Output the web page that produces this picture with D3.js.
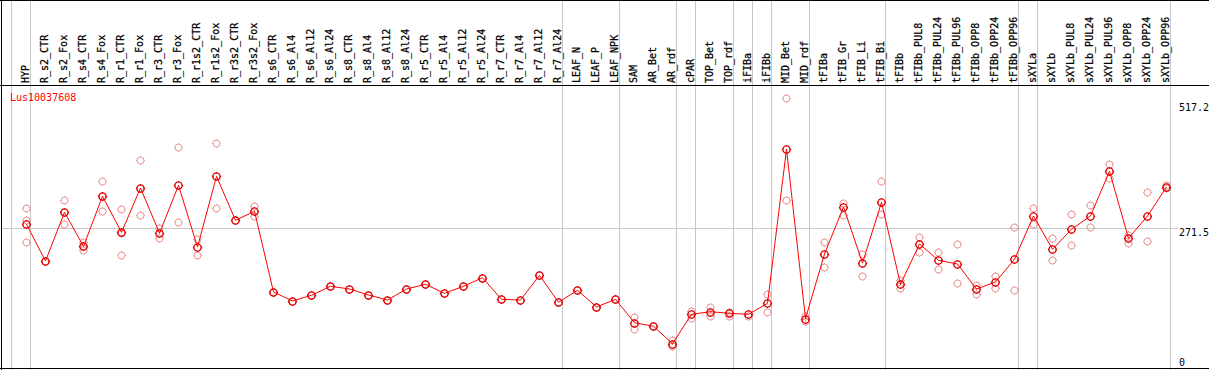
<!DOCTYPE html>
<html>
<head>
<meta charset="utf-8">
<script src="https://cdn.jsdelivr.net/npm/d3@7"></script>
<style>
  body { margin: 0; background: #fff; }
  svg { display: block; font-family: "DejaVu Sans Mono", monospace; font-size: 10px; }
</style>
</head>
<body>
<svg id="chart" width="1209" height="370"></svg>
<script>
// Sample names (columns)
const samples = ["HYP", "R_s2_CTR", "R_s2_Fox", "R_s4_CTR", "R_s4_Fox", "R_r1_CTR", "R_r1_Fox",
  "R_r3_CTR", "R_r3_Fox", "R_r1s2_CTR", "R_r1s2_Fox", "R_r3s2_CTR", "R_r3s2_Fox",
  "R_s6_CTR", "R_s6_Al4", "R_s6_Al12", "R_s6_Al24", "R_s8_CTR", "R_s8_Al4", "R_s8_Al12", "R_s8_Al24",
  "R_r5_CTR", "R_r5_Al4", "R_r5_Al12", "R_r5_Al24", "R_r7_CTR", "R_r7_Al4", "R_r7_Al12", "R_r7_Al24",
  "LEAF_N", "LEAF_P", "LEAF_NPK", "SAM", "AR_Bet", "AR_rdf", "cPAR", "TOP_Bet", "TOP_rdf",
  "iFIBa", "iFIBb", "MID_Bet", "MID_rdf", "tFIBa", "tFIB_Gr", "tFIB_Li", "tFIB_Bi",
  "tFIBb", "tFIBb_PUL8", "tFIBb_PUL24", "tFIBb_PUL96", "tFIBb_OPP8", "tFIBb_OPP24", "tFIBb_OPP96",
  "sXYLa", "sXYLb", "sXYLb_PUL8", "sXYLb_PUL24", "sXYLb_PUL96", "sXYLb_OPP8", "sXYLb_OPP24", "sXYLb_OPP96"];

// First sample of each group (separator lines)
const groupStarts = ["HYP", "R_s2_CTR", "LEAF_N", "SAM", "cPAR", "TOP_Bet", "iFIBa", "iFIBb",
  "MID_Bet", "tFIBa", "tFIBb", "sXYLa", "sXYLb"];

// Mean expression per sample
const means = [279.4, 207.0, 303.1, 236.0, 334.6, 263.6, 351.0, 261.7, 356.3, 234.6, 374.0, 287.3, 305.0,
  145.9, 128.2, 139.4, 157.2, 151.8, 140.0, 130.1, 151.8,
  161.1, 143.3, 157.2, 174.1, 131.5, 130.1, 178.8, 125.6,
  149.3, 116.3, 131.5, 85.4, 78.3, 44.0, 101.9, 107.1, 103.9,
  101.9, 123.6, 427.3, 93.3, 220.8, 313.5, 203.1, 322.8,
  161.1, 240.6, 208.4, 201.1, 151.8, 165.6, 210.4,
  295.8, 230.1, 269.5, 295.8, 383.9, 251.8, 295.8, 353.0];

// Replicate values per sample
const replicates = [[311.0, 288.5, 244.5], [207.0], [326.7, 279.4, 303.1], [245.1, 228.1, 236.0],
  [364.2, 305.0, 334.6], [309.6, 218.3, 263.0], [405.6, 297.2, 351.0], [272.1, 251.8], [431.2, 283.3],
  [250.4, 218.3], [439.1, 311.5], [287.3], [315.5, 296.4],
  [145.9], [128.2], [139.4], [157.2], [151.8], [140.0], [130.1], [151.8],
  [161.1], [143.3], [157.2], [174.1], [131.5], [130.1], [178.8], [125.6],
  [149.3], [116.3], [131.5], [97.2, 73.0], [78.3], [50.7, 40.0], [109.0, 94.1], [116.3, 99.2], [106.5, 98.6],
  [99.2], [141.4, 105.9], [527.8, 326.7], [98.6, 89.3], [243.9, 194.6], [321.4, 297.7], [220.8, 176.9], [364.2, 299.7],
  [169.0, 153.8], [254.4, 225.4], [224.8, 191.9], [240.6, 163.7], [160.3, 142.6], [177.5, 153.2], [273.5, 149.9],
  [311.5, 279.4], [251.8, 208.4], [299.1, 238.0], [317.5, 273.5], [397.7, 370.7], [258.9, 243.1], [342.5, 245.9], [357.5, 351.0]];

const tickValues = [0, 271.5, 517.2];
const geneName = "Lus10037608";

const W = 1209, H = 370;
const headerBottom = 85;
const svg = d3.select("#chart");

const x = d3.scaleBand().domain(samples).range([11, 11 + 19 * samples.length]).padding(0);
const px = d => x(d) + 15;
const y = d3.scaleLinear().domain([0, 517.2]).range([366, 103.7]);

// separator lines
const seps = groupStarts.map(g => x(g)).concat([x.range()[1]]);
svg.append("g").selectAll("line").data(seps).enter().append("line")
  .attr("x1", d => d + 0.5).attr("x2", d => d + 0.5)
  .attr("y1", 0).attr("y2", H)
  .attr("stroke", "#c8c8c8");

// grid line at middle tick
svg.append("line")
  .attr("x1", 1).attr("x2", 1178)
  .attr("y1", Math.round(y(271.5)) + 0.5).attr("y2", Math.round(y(271.5)) + 0.5)
  .attr("stroke", "#c8c8c8");

// borders
svg.append("line").attr("x1", 0).attr("x2", W).attr("y1", 0.5).attr("y2", 0.5).attr("stroke", "#000");
svg.append("line").attr("x1", 0).attr("x2", W).attr("y1", headerBottom + 0.5).attr("y2", headerBottom + 0.5).attr("stroke", "#000");
svg.append("line").attr("x1", 0).attr("x2", W).attr("y1", H - 1.5).attr("y2", H - 1.5).attr("stroke", "#000");
svg.append("line").attr("x1", 1.5).attr("x2", 1.5).attr("y1", 0).attr("y2", H).attr("stroke", "#000");

// column labels
svg.append("g").selectAll("text").data(samples).enter().append("text")
  .attr("transform", d => "translate(" + (px(d) + 3.2) + "," + (headerBottom - 2) + ") rotate(-90)")
  .attr("fill", "#000")
  .attr("stroke", "#000")
  .attr("stroke-width", 0.25)
  .text(d => d);

// y labels on right
svg.append("g").selectAll("text").data(tickValues).enter().append("text")
  .attr("x", 1179)
  .attr("y", d => Math.min(y(d) + 7.5, 366))
  .attr("fill", "#000")
  .text(d => d);

// gene name
svg.append("text").attr("x", 10).attr("y", 101).attr("fill", "#f00").text(geneName);

// marker: small circle with 4 ticks
const marker = r => "M" + (-r) + ",0A" + r + "," + r + " 0 1,0 " + r + ",0A" + r + "," + r + " 0 1,0 " + (-r) + ",0" +
  "M0," + (-r) + "V" + (-r - 1) + "M0," + r + "V" + (r + 1) +
  "M" + (-r) + ",0H" + (-r - 1) + "M" + r + ",0H" + (r + 1);

// replicate points
const reps = [];
samples.forEach((s, i) => replicates[i].forEach(v => reps.push({ s: s, v: v })));
svg.append("g").selectAll("path").data(reps).enter().append("path")
  .attr("transform", d => "translate(" + (px(d.s) + 0.5) + "," + (Math.round(y(d.v)) + 0.5) + ")")
  .attr("d", marker(3.5))
  .attr("fill", "none")
  .attr("stroke", "#eb9494")
  .attr("stroke-width", 1);

// mean line
const line = d3.line().x((d, i) => px(samples[i]) + 0.5).y(d => y(d));
svg.append("path").datum(means)
  .attr("d", line)
  .attr("fill", "none")
  .attr("stroke", "#f00")
  .attr("stroke-width", 1);

svg.append("g").selectAll("path").data(means).enter().append("path")
  .attr("transform", (d, i) => "translate(" + (px(samples[i]) + 0.5) + "," + (Math.round(y(d)) + 0.5) + ")")
  .attr("d", marker(3.6))
  .attr("fill", "none")
  .attr("stroke", "#e00000")
  .attr("stroke-width", 1.4);
</script>
</body>
</html>
